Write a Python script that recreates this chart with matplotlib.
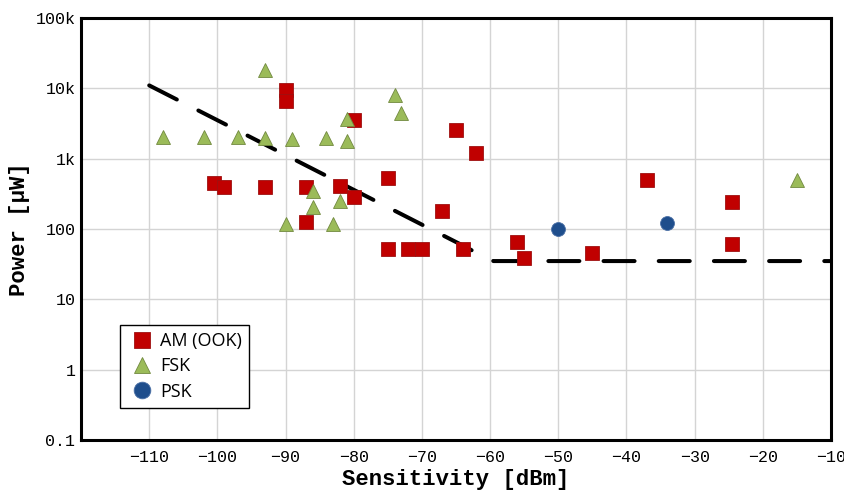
import matplotlib
matplotlib.use("Agg")
import matplotlib.pyplot as plt
from matplotlib.ticker import FixedLocator, FixedFormatter

# AM (OOK)
am_x = [-100.5, -99, -93, -90, -90, -87, -87, -82, -80, -80, -75, -75, -72, -70,
        -67, -65, -62, -64, -56, -55, -45, -37, -24.5, -24.5]
am_y = [450, 400, 390, 9500, 6700, 400, 125, 410, 285, 3600, 530, 52, 52, 52,
        180, 2550, 1200, 52, 65, 39, 46, 490, 245, 61]

# FSK
fsk_x = [-108, -102, -97, -93, -93, -89, -90, -84, -81, -81, -86, -86, -83, -82,
         -74, -73, -15]
fsk_y = [2050, 2050, 2000, 18000, 1950, 1900, 118, 1950, 1800, 3700, 350, 205,
         118, 250, 8000, 4400, 500]

# PSK
psk_x = [-50, -34]
psk_y = [100, 120]

# trend line
trend_x = [-110, -63.5, -60.5, -59.5, -10]
trend_y = [11000, 55, 38, 35, 35]

y_ticks = [0.1, 1, 10, 100, 1e3, 1e4, 1e5]
y_labels = ["0.1", "1", "10", "100", "1k", "10k", "100k"]
x_ticks = list(range(-110, 0, 10))

mono = "Liberation Mono"

fig = plt.figure(figsize=(8.45, 4.94), dpi=100)
ax = fig.add_axes([0.0959, 0.1093, 0.8875, 0.8543])

ax.plot(trend_x, trend_y, color="black", lw=2.9, ls=(0, (7.7, 6.0)),
        solid_capstyle="round", dash_capstyle="round", zorder=2)

ax.plot(am_x, am_y, ls="none", marker="s", ms=9.5, color="#C00000",
        mec="#9E1010", mew=0.6, label="AM (OOK)", zorder=3)
ax.plot(fsk_x, fsk_y, ls="none", marker="^", ms=10, color="#9BBB59",
        mec="#71893F", mew=0.6, label="FSK", zorder=3)
ax.plot(psk_x, psk_y, ls="none", marker="o", ms=10, color="#1F4E8C",
        mec="#4A6FA5", mew=0.6, label="PSK", zorder=4)

ax.set_yscale("log")
ax.set_xlim(-120, -10)
ax.set_ylim(0.1, 1e5)
ax.yaxis.set_major_locator(FixedLocator(y_ticks))
ax.yaxis.set_major_formatter(FixedFormatter(y_labels))
ax.yaxis.set_minor_locator(FixedLocator([]))
ax.set_xticks(x_ticks)
ax.set_xticklabels(["\u2212%d" % abs(v) for v in x_ticks])

ax.grid(True, color="#d4d4d4", lw=1.0)
ax.set_axisbelow(True)
ax.tick_params(length=0, labelsize=12)
ax.tick_params(axis="y", pad=4)
ax.tick_params(axis="x", pad=7)
for lab in ax.get_xticklabels() + ax.get_yticklabels():
    lab.set_family(mono)

for s in ax.spines.values():
    s.set_linewidth(2.2)

ax.set_xlabel("Sensitivity [dBm]", family=mono, fontweight="bold", fontsize=16, labelpad=3)
ax.set_ylabel("Power [\u03bcW]", family=mono, fontweight="bold", fontsize=16, labelpad=4)

leg = ax.legend(loc="lower left", bbox_to_anchor=(0.052, 0.076), frameon=True,
                fancybox=False, edgecolor="black", framealpha=1,
                prop={"family": "Open Sans", "size": 13}, handletextpad=0.2,
                labelspacing=0.4, borderpad=0.4, handlelength=1.6,
                borderaxespad=0, markerscale=1.2)
leg.get_frame().set_linewidth(1.0)

plt.savefig("out.png", dpi=100)
